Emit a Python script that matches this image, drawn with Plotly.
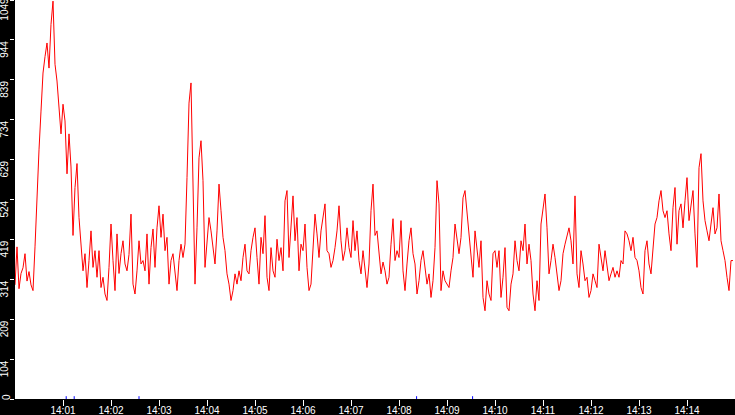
import pandas as pd
import plotly.graph_objects as go

# samples every 2.5 s starting 14:00:00
start = '2024-01-01 14:00:00'
values = [
    300, 400, 290, 330, 345, 382, 310, 335, 300, 285,
    400, 540, 655, 757, 857, 900, 936, 870, 985, 1046,
    880, 836, 760, 697, 775, 731, 592, 697, 610, 430,
    556, 619, 477, 398, 337, 382, 293, 364, 442, 346,
    390, 320, 390, 293, 320, 276, 259, 346, 460, 364,
    285, 434, 330, 382, 416, 355, 337, 380, 486, 302,
    276, 337, 416, 355, 364, 337, 434, 302, 398, 447,
    346, 450, 508, 425, 486, 390, 425, 302, 364, 382,
    329, 285, 364, 407, 372, 407, 582, 778, 831, 592,
    302, 450, 634, 679, 574, 346, 407, 477, 442, 390,
    355, 442, 565, 495, 425, 390, 329, 302, 259, 285,
    329, 302, 337, 311, 372, 407, 337, 329, 390, 425,
    450, 372, 302, 425, 382, 482, 320, 285, 398, 337,
    320, 420, 364, 398, 337, 521, 548, 372, 469, 534,
    416, 477, 337, 407, 390, 460, 346, 285, 302, 382,
    486, 434, 372, 442, 477, 513, 390, 382, 346, 364,
    398, 442, 508, 416, 364, 390, 450, 398, 372, 469,
    390, 442, 364, 329, 390, 337, 293, 355, 495, 565,
    430, 442, 390, 329, 360, 337, 302, 320, 407, 474,
    364, 390, 372, 469, 337, 285, 355, 416, 450, 382,
    355, 276, 311, 364, 390, 337, 302, 329, 267, 311,
    398, 574, 513, 285, 337, 311, 302, 293, 337, 372,
    460, 416, 382, 425, 529, 548, 486, 425, 372, 320,
    442, 390, 346, 416, 267, 232, 311, 276, 259, 382,
    390, 346, 390, 267, 320, 398, 241, 232, 302, 329,
    416, 364, 337, 416, 390, 460, 355, 407, 364, 276,
    232, 311, 259, 460, 503, 539, 450, 329, 364, 407,
    372, 329, 285, 311, 382, 407, 425, 450, 416, 355,
    534, 329, 293, 390, 355, 311, 320, 267, 285, 329,
    311, 293, 407, 372, 337, 390, 346, 311, 329, 346,
    320, 337, 320, 364, 355, 442, 434, 416, 390, 425,
    372, 364, 337, 293, 276, 390, 416, 355, 329, 407,
    460, 477, 521, 548, 495, 477, 495, 434, 390, 503,
    556, 407, 495, 513, 450, 521, 582, 469, 503, 548,
    434, 346, 608, 645, 521, 469, 442, 416, 460, 503,
    434, 450, 539, 416, 390, 364, 320, 285, 364, 364,
]
times = pd.date_range(start, periods=len(values), freq='2500ms')

event_times = ['2024-01-01 14:01:04', '2024-01-01 14:01:14', '2024-01-01 14:02:35',
               '2024-01-01 14:08:22', '2024-01-01 14:09:32']

y_ticks = [0, 104, 209, 314, 419, 524, 629, 734, 839, 944, 1049]
x_ticks = pd.date_range('2024-01-01 14:01:00', '2024-01-01 14:14:00', freq='1min')

fig = go.Figure()
fig.add_trace(go.Scatter(x=times, y=values, mode='lines',
                         line=dict(color='#ff0000', width=1)))
fig.add_trace(go.Scatter(x=pd.to_datetime(event_times), y=[0] * len(event_times), mode='markers',
                         marker=dict(symbol='line-ns', size=4, line=dict(color='#0000ff', width=1))))

fig.update_layout(
    width=735, height=415,
    margin=dict(l=15, r=0, t=0, b=16, autoexpand=False),
    paper_bgcolor='black', plot_bgcolor='white',
    showlegend=False,
    font=dict(family='Liberation Sans', size=10, color='white'),
)
fig.update_xaxes(
    range=['2024-01-01 14:00:00', '2024-01-01 14:15:00'],
    tickvals=x_ticks, tickformat='%H:%M',
    ticks='outside', ticklen=6, tickcolor='white', tickwidth=1,
    ticklabelstandoff=-4, automargin=False,
    showgrid=False, zeroline=False, showline=False,
)
# the lowest label sits beside its tick instead of below it, so it is placed by hand
fig.update_yaxes(
    range=[0, 1049],
    tickvals=y_ticks, ticktext=[''] + [str(v) for v in y_ticks[1:]],
    tickangle=-90, ticklabelshift=11, ticklabelstandoff=-2,
    ticklabeloverflow='allow',
    ticks='outside', ticklen=4, tickcolor='white', tickwidth=1,
    automargin=False,
    showgrid=False, zeroline=False, showline=False,
)
fig.add_annotation(x=0, xref='paper', y=y_ticks[0], yref='y', text=str(y_ticks[0]),
                   textangle=-90, showarrow=False, xanchor='center', yanchor='middle',
                   xshift=-9, yshift=2, font=dict(color='white', size=10))

# page body has a default 8px margin; drop it so the figure fills the window
fig.write_html('out.html', config={'displayModeBar': False},
               post_script="document.body.style.margin='0';document.body.style.overflow='hidden';")
